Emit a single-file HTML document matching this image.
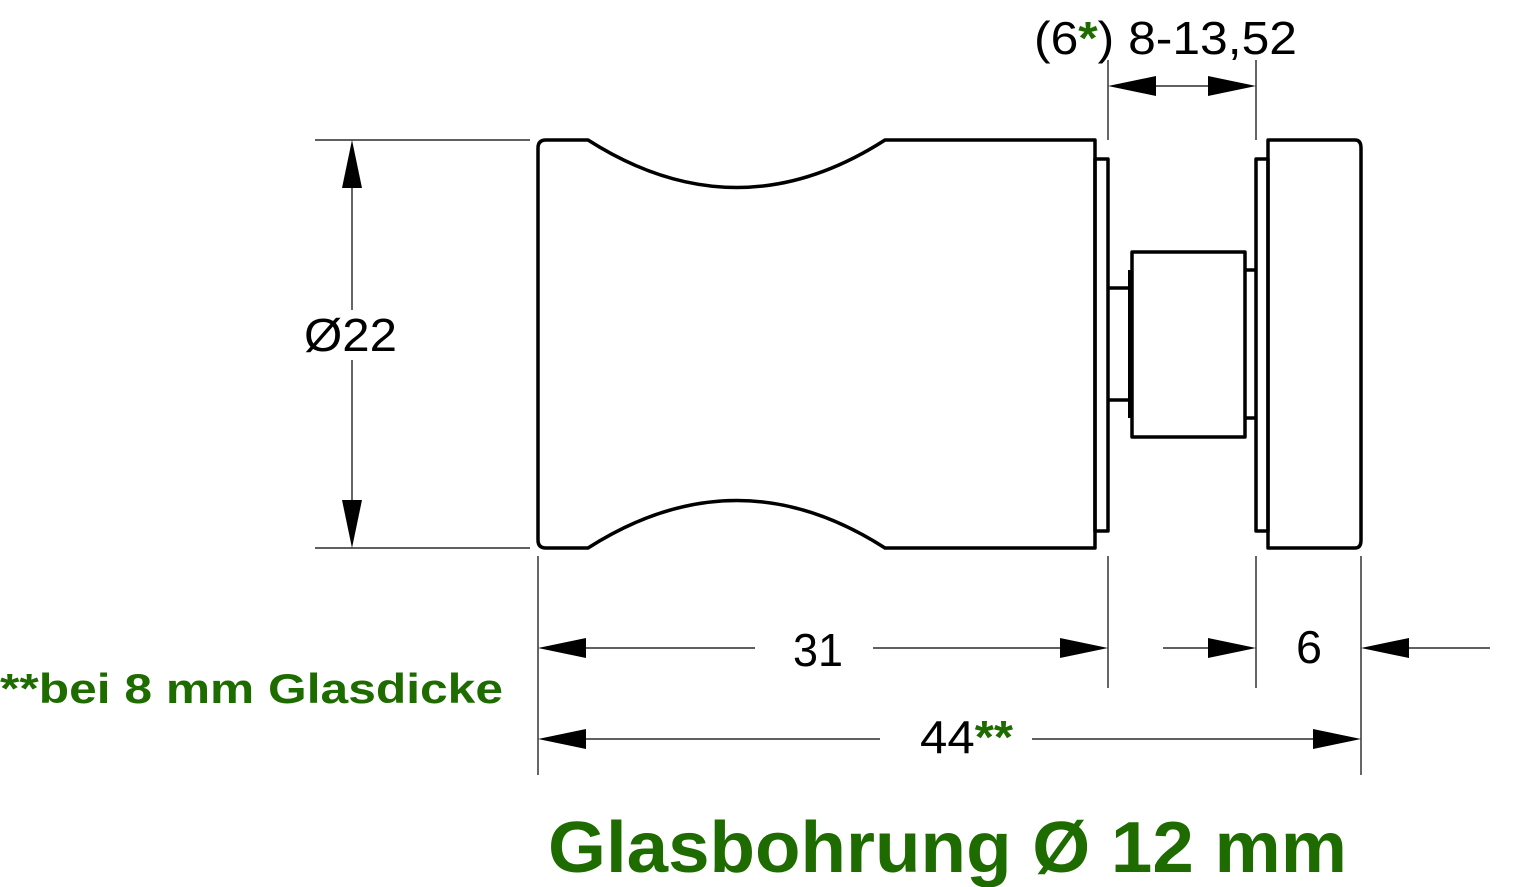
<!DOCTYPE html>
<html><head><style>html,body{margin:0;padding:0;background:#fff}svg{display:block}</style></head>
<body>
<svg width="1523" height="887" viewBox="0 0 1523 887" xmlns="http://www.w3.org/2000/svg" font-family="Liberation Sans, Arial, sans-serif">
<g fill="none" stroke="#000" stroke-width="3.5" stroke-linejoin="round">
  <path d="M546 140 H588 Q737 235 885 140 H1095 V548 H885 Q737 453 588 548 H546 Q538 548 538 540 V148 Q538 140 546 140 Z"/>
  <rect x="1095" y="159" width="13" height="372"/>
  <path d="M1108 288 H1130 M1108 400 H1130"/>
  <rect x="1132" y="252" width="113" height="185"/>
  <path d="M1245 270 H1256 M1245 418 H1256"/>
  <rect x="1256" y="159" width="12" height="372"/>
  <path d="M1268 140 H1355 Q1361 140 1361 148 V540 Q1361 548 1355 548 H1268 Z"/>
</g>
<rect x="1128" y="270" width="5" height="148" fill="#000"/>
<g stroke="#000" stroke-width="1.2" fill="none">
  <path d="M315 140 H530 M315 548 H530"/>
  <path d="M352 188 V310 M352 360 V500"/>
  <path d="M538 556 V775 M1108 556 V688 M1256 556 V688 M1361 556 V775"/>
  <path d="M1108 60 V140 M1256 60 V140"/>
  <path d="M586 648 H755 M873 648 H1060"/>
  <path d="M1163 648 H1210 M1409 648 H1490"/>
  <path d="M586 739 H880 M1032 739 H1314"/>
  <path d="M1154 86 H1210"/>
</g>
<g fill="#000">
  <polygon points="352,140 342,188 362,188"/>
  <polygon points="352,548 342,500 362,500"/>
  <polygon points="538,648 586,638 586,658"/>
  <polygon points="1108,648 1060,638 1060,658"/>
  <polygon points="1256,648 1208,638 1208,658"/>
  <polygon points="1361,648 1409,638 1409,658"/>
  <polygon points="538,739 586,729 586,749"/>
  <polygon points="1361,739 1313,729 1313,749"/>
  <polygon points="1108,86 1156,76 1156,96"/>
  <polygon points="1256,86 1208,76 1208,96"/>
</g>
<g font-size="46" fill="#000">
  <text x="304" y="351" textLength="93" lengthAdjust="spacingAndGlyphs">Ø22</text>
  <text x="793" y="666" textLength="50" lengthAdjust="spacingAndGlyphs">31</text>
  <text x="1296" y="663" textLength="26" lengthAdjust="spacingAndGlyphs">6</text>
  <text x="920" y="753" textLength="93" lengthAdjust="spacingAndGlyphs">44<tspan fill="#1e6b00" font-weight="bold">**</tspan></text>
  <text x="1034" y="54" textLength="263" lengthAdjust="spacingAndGlyphs">(6<tspan fill="#1e6b00" font-weight="bold">*</tspan>) 8-13,52</text>
</g>
<text x="0" y="703" font-size="42" font-weight="bold" fill="#1e6b00" textLength="503" lengthAdjust="spacingAndGlyphs">**bei 8 mm Glasdicke</text>
<text x="548" y="872" font-size="72" font-weight="bold" fill="#1e6b00" textLength="799" lengthAdjust="spacingAndGlyphs">Glasbohrung Ø 12 mm</text>
</svg>
</body></html>
